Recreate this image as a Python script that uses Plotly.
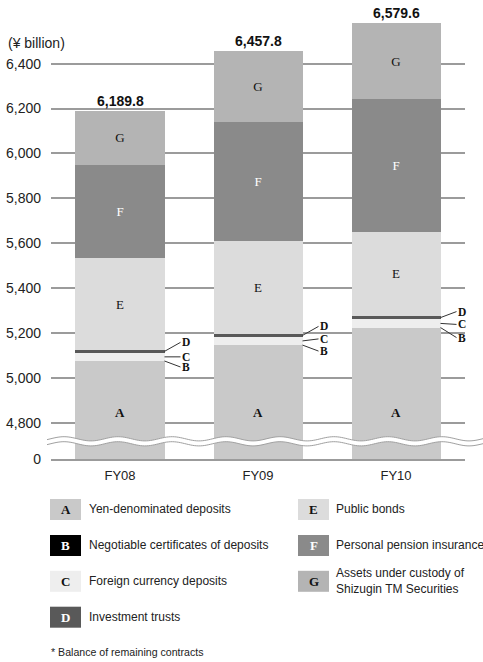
import numpy as np
import plotly.graph_objects as go

# ---------------- data (¥ billion) ----------------
years = ["FY08", "FY09", "FY10"]
yen_deposits = [5075.0, 5146.0, 5224.0]          # A
negotiable_cds = [0.0, 0.0, 0.0]                 # B (negligible, not visible in chart)
foreign_currency_deposits = [37.0, 37.0, 37.0]   # C
investment_trusts = [12.0, 12.0, 15.0]           # D
public_bonds = [410.0, 415.0, 375.0]             # E
pension_insurance = [416.0, 530.0, 592.0]        # F
custody_assets = [239.8, 317.8, 336.6]           # G
totals = [6189.8, 6457.8, 6579.6]
total_labels = ["6,189.8", "6,457.8", "6,579.6"]

tick_values = [4800, 5000, 5200, 5400, 5600, 5800, 6000, 6200, 6400]
tick_labels = ["4,800", "5,000", "5,200", "5,400", "5,600", "5,800", "6,000", "6,200", "6,400"]

letters = ["A", "B", "C", "D", "E", "F", "G"]
legend_labels = ["Yen-denominated deposits", "Negotiable certificates of deposits",
                 "Foreign currency deposits", "Investment trusts", "Public bonds",
                 "Personal pension insurance*", "Assets under custody of<br>Shizugin TM Securities"]
series = [yen_deposits, negotiable_cds, foreign_currency_deposits, investment_trusts,
          public_bonds, pension_insurance, custody_assets]

# ---------------- style ----------------
colors = ["#c9c9c9", "#000000", "#eeeeee", "#595959", "#dcdcdc", "#8a8a8a", "#b4b4b4"]
letter_colors = ["#111", "#fff", "#111", "#fff", "#111", "#fff", "#111"]
SANS = "Liberation Sans, Arial, sans-serif"
SERIF = "Liberation Serif, Times New Roman, serif"
GRID = "#9b9b9b"

W, H = 483, 662
L, R, T, B = 51, 18, 14, 203
plot_w = W - L - R
plot_h = H - T - B
base_px = H - B


def px(x):
    return (x - L) / plot_w


def py(y):
    return (base_px - y) / plot_h


# y scale of the upper (broken) axis
y6400_px, y4800_px = 63.7, 422.7
scale = (y4800_px - y6400_px) / 1600.0
break_px = 441
top_range = [4800 - (break_px - y4800_px) / scale, 6400 + (y6400_px - T) / scale]
split = py(break_px)
bar_w = 0.645

fig = go.Figure()
text_letters = {"E", "F", "G"}
for k, (lab, vals) in enumerate(zip(letters, series)):
    show_txt = lab in text_letters
    fig.add_trace(go.Bar(
        x=years, y=vals, name=legend_labels[k], width=bar_w,
        marker=dict(color=colors[k], line=dict(width=0)),
        text=[lab] * len(years) if show_txt else None,
        textposition="inside" if show_txt else "none",
        insidetextanchor="middle", textangle=0, constraintext="none",
        textfont=dict(family=SERIF, size=13, color=letter_colors[k]),
        xaxis="x", yaxis="y", showlegend=False, hoverinfo="skip",
    ))
# lower segment of the broken axis (only A reaches it)
fig.add_trace(go.Bar(x=years, y=yen_deposits, width=bar_w,
                     marker=dict(color=colors[0], line=dict(width=0)),
                     xaxis="x2", yaxis="y2", showlegend=False, hoverinfo="skip"))

annotations = []
# A labels
for yr in years:
    annotations.append(dict(x=yr, y=4845, xref="x", yref="y", text="<b>A</b>", showarrow=False,
                            xanchor="center", yanchor="middle",
                            font=dict(family=SERIF, size=13, color="#111")))
# totals
for yr, tv, tl in zip(years, totals, total_labels):
    annotations.append(dict(x=yr, y=tv, xref="x", yref="y", text="<b>%s</b>" % tl, showarrow=False,
                            xanchor="center", yanchor="bottom", yshift=0,
                            font=dict(family=SANS, size=14, color="#111")))
# leader labels B, C, D
ay_d = [-9, -9, -6]
ay_c = [0, -2, 1]
ay_b = [6, 6, 10]
for i in range(len(years)):
    xe = i + bar_w / 2
    b_mid = yen_deposits[i] + negotiable_cds[i] / 2
    c_mid = yen_deposits[i] + negotiable_cds[i] + foreign_currency_deposits[i] / 2
    d_mid = (yen_deposits[i] + negotiable_cds[i] + foreign_currency_deposits[i]
             + investment_trusts[i] / 2)
    for lab, yv, ay in (("D", d_mid, ay_d[i]), ("C", c_mid, ay_c[i]), ("B", b_mid, ay_b[i])):
        annotations.append(dict(x=xe, y=yv, xref="x", yref="y", text="<b>%s</b>" % lab,
                                showarrow=True, arrowhead=0, arrowwidth=1, arrowcolor="#333",
                                ax=16, ay=ay, xanchor="left", yanchor="middle",
                                standoff=0, startstandoff=0, borderpad=0,
                                font=dict(family=SERIF, size=11.5, color="#111")))
# unit label
annotations.append(dict(x=px(6), y=py(43), xref="paper", yref="paper", text="(¥ billion)",
                        showarrow=False, xanchor="left", yanchor="middle",
                        font=dict(family=SANS, size=14, color="#222")))

shapes = []
# axis break (wavy band)
xs = np.linspace(47, 483, 220)
period, amp, phase_x = 54.0, 2.1, 64.0
up = 438.8 - amp * np.cos(2 * np.pi * (xs - phase_x) / period)
lo = up + 5.0


def path_of(xarr, yarr):
    return "M " + " L ".join("%.5f,%.5f" % (px(a), py(b)) for a, b in zip(xarr, yarr))


shapes.append(dict(type="path", xref="paper", yref="paper", layer="above",
                   path=path_of(np.concatenate([xs, xs[::-1]]), np.concatenate([up, lo[::-1]])) + " Z",
                   fillcolor="white", line=dict(width=0)))
for arr in (up, lo):
    shapes.append(dict(type="path", xref="paper", yref="paper", layer="above",
                       path=path_of(xs, arr), line=dict(color="#a0a0a0", width=1)))

# custom legend
rows_y = [509.5, 545.5, 581.3, 617.2]
col_x = [(50, 81, 87), (298, 329, 334)]
for k, lab in enumerate(letters):
    col = 0 if k < 4 else 1
    row = k if k < 4 else k - 4
    x0, x1, tx = col_x[col]
    yc = rows_y[row]
    shapes.append(dict(type="rect", xref="paper", yref="paper",
                       x0=px(x0), x1=px(x1), y0=py(yc - 10.5), y1=py(yc + 10.5),
                       fillcolor=colors[k], line=dict(width=0)))
    annotations.append(dict(x=px((x0 + x1) / 2), y=py(yc), xref="paper", yref="paper",
                            text="<b>%s</b>" % lab, showarrow=False,
                            xanchor="center", yanchor="middle",
                            font=dict(family=SERIF, size=13, color=letter_colors[k])))
    annotations.append(dict(x=px(tx), y=py(yc - 0.5), xref="paper", yref="paper",
                            text=legend_labels[k], showarrow=False, xanchor="left", yanchor="middle",
                            align="left",
                            font=dict(family=SANS, size=12, color="#222")))
annotations.append(dict(x=px(49), y=py(652), xref="paper", yref="paper",
                        text="* Balance of remaining contracts", showarrow=False,
                        xanchor="left", yanchor="middle",
                        font=dict(family=SANS, size=10.6, color="#222")))

fig.update_layout(
    width=W, height=H, barmode="stack",
    margin=dict(l=L, r=R, t=T, b=B, pad=0, autoexpand=False),
    paper_bgcolor="white", plot_bgcolor="white",
    font=dict(family=SANS, color="#222"),
    showlegend=False,
    xaxis=dict(domain=[0, 1], anchor="y", range=[-0.5, 2.5], showticklabels=False,
               showgrid=False, zeroline=False, showline=False, matches="x2", automargin=False),
    xaxis2=dict(domain=[0, 1], anchor="y2", range=[-0.5, 2.5], showgrid=False, zeroline=False,
                showline=True, linecolor=GRID, linewidth=1.8, ticks="", automargin=False,
                tickfont=dict(family=SANS, size=13, color="#222"), ticklabelstandoff=3),
    yaxis=dict(domain=[split, 1], range=top_range, tickvals=tick_values, ticktext=tick_labels,
               showgrid=True, gridcolor=GRID, gridwidth=1.8, zeroline=False, showline=False,
               ticks="", ticklabelstandoff=9, automargin=False,
               tickfont=dict(family=SANS, size=14, color="#222")),
    yaxis2=dict(domain=[0, split], range=[0, 100], tickvals=[0], ticktext=["0"], showgrid=False,
                zeroline=False, showline=False, ticks="", ticklabelstandoff=9, automargin=False,
                tickfont=dict(family=SANS, size=14, color="#222")),
    annotations=annotations, shapes=shapes,
)

fig.write_html("out.html", config={"displayModeBar": False},
               post_script="document.body.style.margin='0';")
